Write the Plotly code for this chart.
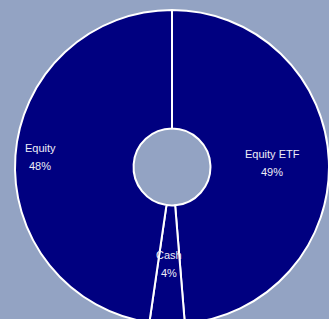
import math
import plotly.graph_objects as go

labels = ["Equity ETF", "Cash", "Equity"]
values = [48.7, 3.6, 47.7]
label_radius = [0.64, 0.62, 0.84]

W, H = 345, 335
cx, cy, R = 172, 167, 157

fig = go.Figure(go.Pie(
    labels=labels,
    values=values,
    sort=False,
    direction="clockwise",
    rotation=0,
    hole=0.245,
    marker=dict(colors=["#000080"] * 3, line=dict(color="white", width=2)),
    textinfo="none",
    showlegend=False,
    hoverinfo="label+percent",
    domain=dict(x=[(cx - R) / W, (cx + R) / W],
                y=[(H - cy - R) / H, (H - cy + R) / H]),
))

total = sum(values)
cum = 0.0
font = dict(family="Liberation Sans, Arial", size=11, color="#eeeef8")
for lab, v, rf in zip(labels, values, label_radius):
    mid = (cum + v / 2) / total * 2 * math.pi
    cum += v
    px = cx + rf * R * math.sin(mid)
    py = cy - rf * R * math.cos(mid)
    for txt, shift in ((lab, 9), (f"{round(v / total * 100):.0f}%", -9)):
        fig.add_annotation(
            x=px / W, y=(H - py) / H, xref="paper", yref="paper",
            xanchor="center", yanchor="middle", yshift=shift,
            text=txt, showarrow=False, font=font,
        )

fig.update_layout(
    width=W, height=H,
    margin=dict(l=0, r=0, t=0, b=0),
    paper_bgcolor="#93A3C3",
    plot_bgcolor="#93A3C3",
)
fig.write_html(
    "out.html",
    config={"displayModeBar": False},
    post_script="document.body.style.margin='0px';document.body.style.overflow='hidden';",
)
